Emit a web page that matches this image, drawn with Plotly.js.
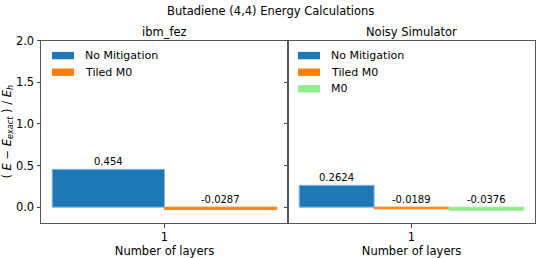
<!DOCTYPE html>
<html>
<head>
<meta charset="utf-8">
<script src="https://cdn.plot.ly/plotly-3.0.1.min.js"></script>
<style>html,body{margin:0;padding:0;background:#fff;}#chart{width:540px;height:258px;}</style>
</head>
<body>
<div id="chart"></div>
<script>
const categories = [1];
const leftSeries = ['No Mitigation', 'Tiled M0'];
const leftValues = [0.454, -0.0287];
const leftLabels = ['0.454', '-0.0287'];
const rightSeries = ['No Mitigation', 'Tiled M0', 'M0'];
const rightValues = [0.2624, -0.0189, -0.0376];
const rightLabels = ['0.2624', '-0.0189', '-0.0376'];
const yTicks = [0.0, 0.5, 1.0, 1.5, 2.0];
const yTickText = ['0.0', '0.5', '1.0', '1.5', '2.0'];

const colors = {'No Mitigation': '#1f77b4', 'Tiled M0': '#ff7f0e', 'M0': '#90ee90'};
const edges = {'No Mitigation': '#7fb8e0', 'Tiled M0': '#ff7f0e', 'M0': '#90ee90'};
const FONT = 'DejaVu Sans, sans-serif';
const W = 540, H = 258;

const traces = [];
const annotations = [];
const shapes = [];

function addPanel(series, values, labels, xa, ya, legX) {
  const n = series.length;
  const w = 0.8 / n;
  series.forEach((name, i) => {
    const off = -0.4 + i * w;
    traces.push({
      type: 'bar', name: name, x: categories, y: [values[i]],
      width: w, offset: off, xaxis: xa, yaxis: ya,
      marker: {color: colors[name], line: {color: edges[name], width: 1}},
      showlegend: false, hoverinfo: 'skip'
    });
    annotations.push({
      x: categories[0] + off + w / 2, y: Math.max(values[i], 0),
      xref: xa, yref: ya, text: labels[i], showarrow: false,
      yanchor: 'bottom', xanchor: 'center', yshift: 0,
      font: {family: FONT, size: 10, color: '#000'}
    });
    // legend entry (swatch + label)
    const cy = 55.6 + i * 16.6;
    shapes.push({type: 'rect', xref: 'paper', yref: 'paper',
      x0: legX / W, x1: (legX + 22) / W, y0: 1 - (cy - 3.7) / H, y1: 1 - (cy + 3.7) / H,
      fillcolor: colors[name], line: {width: 0}});
    annotations.push({text: name, xref: 'paper', yref: 'paper', x: (legX + 31) / W, y: 1 - cy / H,
      xanchor: 'left', yanchor: 'middle', showarrow: false,
      font: {family: FONT, size: 11, color: '#000'}});
  });
}
addPanel(leftSeries, leftValues, leftLabels, 'x', 'y', 52);
addPanel(rightSeries, rightValues, rightLabels, 'x2', 'y2', 298);

const xL0 = 41 / W, xMid = 288 / W, xR1 = 535 / W;
const yB = 1 - 223 / H, yT = 1 - 40.5 / H;

annotations.push({text: 'Butadiene (4,4) Energy Calculations', x: 0.5, y: 1 - 11 / H, xref: 'paper', yref: 'paper',
  showarrow: false, xanchor: 'center', yanchor: 'middle', font: {family: FONT, size: 11.5, color: '#000'}});
annotations.push({text: 'ibm_fez', x: (xL0 + xMid) / 2, y: 1 - 32 / H, xref: 'paper', yref: 'paper',
  showarrow: false, xanchor: 'center', yanchor: 'middle', font: {family: FONT, size: 11.5, color: '#000'}});
annotations.push({text: 'Noisy Simulator', x: (xMid + xR1) / 2, y: 1 - 32 / H, xref: 'paper', yref: 'paper',
  showarrow: false, xanchor: 'center', yanchor: 'middle', font: {family: FONT, size: 11.5, color: '#000'}});

const axCommon = {
  showline: true, linecolor: '#555', linewidth: 1, mirror: true,
  ticks: 'outside', ticklen: 3.5, tickwidth: 1, tickcolor: '#444',
  showgrid: false, zeroline: false,
  tickfont: {family: FONT, size: 11.5, color: '#000'}
};
const xRange = [0.56, 1.44];
const yRange = [-0.19, 2.0];

const layout = {
  width: W, height: H,
  margin: {l: 0, r: 0, t: 0, b: 0},
  paper_bgcolor: '#fff', plot_bgcolor: '#fff',
  barmode: 'overlay',
  showlegend: false,
  font: {family: FONT, color: '#000'},
  xaxis: Object.assign({}, axCommon, {domain: [xL0, xMid], range: xRange, anchor: 'y',
    tickvals: categories, ticktext: categories.map(String),
    title: {text: 'Number of layers', font: {family: FONT, size: 11.5}, standoff: 0}}),
  xaxis2: Object.assign({}, axCommon, {domain: [xMid, xR1], range: xRange, anchor: 'y2',
    tickvals: categories, ticktext: categories.map(String),
    title: {text: 'Number of layers', font: {family: FONT, size: 11.5}, standoff: 0}}),
  yaxis: Object.assign({}, axCommon, {domain: [yB, yT], range: yRange, anchor: 'x',
    tickvals: yTicks, ticktext: yTickText,
    title: {text: '( <i>E</i> − <i>E</i><sub><i>exact</i></sub> ) / <i>E</i><sub><i>h</i></sub>',
      font: {family: FONT, size: 11.5}, standoff: 3}}),
  yaxis2: Object.assign({}, axCommon, {domain: [yB, yT], range: yRange, anchor: 'x2',
    tickvals: yTicks, showticklabels: false}),
  shapes: shapes,
  annotations: annotations
};

Plotly.newPlot('chart', traces, layout, {staticPlot: true, displayModeBar: false});
</script>
</body>
</html>
